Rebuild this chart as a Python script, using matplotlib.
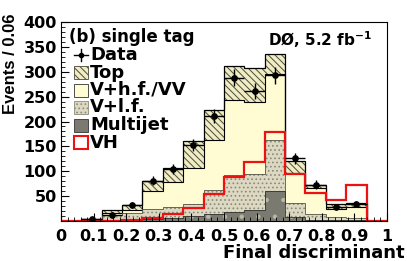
import numpy as np
import matplotlib
matplotlib.use("Agg")
import matplotlib.pyplot as plt
from matplotlib.patches import Rectangle

# ---- data (16 bins of width 0.0625 on [0,1]) ----
edges = np.linspace(0.0, 1.0, 17)
multijet = [0, 1, 2, 3, 4, 6, 10, 14, 19, 22, 60, 9, 3, 2, 2, 0]
vlf      = [0, 1, 10, 13, 20, 22, 25, 49, 74, 72, 103, 28, 11, 6, 4, 0]
vhf      = [0, 1.5, 4, 6, 37, 50, 72, 99, 151, 145, 132, 60, 52, 16, 23, 0]
top      = [0, 1.5, 6, 10.5, 19, 29, 54, 62, 68, 68, 41, 23, 7, 10, 7, 0]
data     = [0, 4, 13, 32, 81, 104, 153, 211, 288, 262, 293, 126, 73, 29, 34.5, 0]
vh       = [0, 0.5, 1, 2, 7, 14, 27, 54, 89, 118, 179, 94, 57, 42, 73, 0]

xticks = [0, 0.1, 0.2, 0.3, 0.4, 0.5, 0.6, 0.7, 0.8, 0.9, 1]
xticklabels = ["0", "0.1", "0.2", "0.3", "0.4", "0.5", "0.6", "0.7", "0.8", "0.9", "1"]
yticks = [50, 100, 150, 200, 250, 300, 350, 400]
legend_labels = ['Data', 'Top', 'V+h.f./VV', 'V+l.f.', 'Multijet', 'VH']

plt.rcParams['font.family'] = ['DejaVu Sans']
plt.rcParams['font.weight'] = 'bold'
plt.rcParams['hatch.linewidth'] = 0.7

W, H = 407, 261
fig = plt.figure(figsize=(W / 100, H / 100), dpi=100)
ax = fig.add_axes([61 / W, 1 - 221 / H, (387 - 61) / W, (221 - 22) / H])

TOP_FC, TOP_HC = '#f0ecc4', '#4a4a3a'
HF_FC = '#fffbd2'
LF_FC, LF_HC = '#dcd8c2', '#8a8a78'
MJ_FC, MJ_HC = '#7a7a70', '#b8b8a8'
VH_C = '#ee1111'

mj = np.array(multijet, float)
lf = np.array(vlf, float)
hf = np.array(vhf, float)
tp = np.array(top, float)
c1 = mj
c2 = c1 + lf
c3 = c2 + hf
c4 = c3 + tp

ax.stairs(c4, edges, baseline=c3, fill=True, facecolor=TOP_FC, edgecolor=TOP_HC, hatch='\\\\\\\\\\', lw=0)
ax.stairs(c3, edges, baseline=c2, fill=True, facecolor=HF_FC, lw=0)
ax.stairs(c2, edges, baseline=c1, fill=True, facecolor=LF_FC, edgecolor=LF_HC, hatch='....', lw=0)
ax.stairs(c1, edges, baseline=0, fill=True, facecolor=MJ_FC, edgecolor=MJ_HC, hatch='.', lw=0)
for c, col, w in [(c4, 'black', 0.9), (c3, 'black', 0.8), (c2, '#555548', 0.6), (c1, '#333330', 0.6)]:
    ax.stairs(c, edges, baseline=None, color=col, lw=w)

ax.stairs(np.array(vh, float), edges, baseline=None, color=VH_C, lw=1.6)

centers = 0.5 * (edges[:-1] + edges[1:])
d = np.array(data, float)
m = d > 0
ax.errorbar(centers[m], d[m], yerr=np.sqrt(d[m]), xerr=0.03125, fmt='o', color='black',
            ms=3.8, elinewidth=1.0, capsize=0, zorder=5)

ax.set_xlim(0, 1)
ax.set_ylim(0, 400)
ax.set_xticks(xticks)
ax.set_xticklabels(xticklabels)
ax.set_yticks(yticks)
ax.set_yticklabels([str(v) for v in yticks])
ax.set_xticks(np.arange(0, 1.0001, 0.02), minor=True)
ax.set_yticks(np.arange(0, 401, 10), minor=True)
ax.tick_params(axis='both', which='major', direction='in', labelsize=11.5, length=6, width=0.8)
ax.tick_params(axis='both', which='minor', direction='in', length=3, width=0.6)
ax.tick_params(axis='x', pad=6)
ax.tick_params(axis='y', pad=3)
for s in ax.spines.values():
    s.set_linewidth(0.8)

# axis titles
fig.text(405 / W, 3 / H, 'Final discriminant', fontsize=13, fontweight='bold',
         ha='right', va='baseline')
fig.text(11 / W, 1 - 13 / H, 'Events / 0.06', fontsize=12, fontweight='bold',
         family=['Liberation Sans', 'DejaVu Sans'], rotation=90, ha='center', va='top')

def ay(py):
    return (221 - py) / 199

def ax_x(px):
    return (px - 61) / 326

ax.text(ax_x(69), ay(37), '(b) single tag', transform=ax.transAxes, fontsize=12,
        fontweight='bold', ha='left', va='center')
ax.text(ax_x(372), ay(40), 'DØ, 5.2 fb$^{\\mathbf{-1}}$', transform=ax.transAxes, fontsize=11,
        fontweight='bold', ha='right', va='center')

# manual legend
rows = [55, 72.5, 90, 107.5, 125, 142.5]
bx0, bx1 = 74, 88
bh = 13
styles = [
    None,
    dict(facecolor=TOP_FC, edgecolor=TOP_HC, hatch='\\\\\\\\\\'),
    dict(facecolor=HF_FC, edgecolor='#333333'),
    dict(facecolor=LF_FC, edgecolor=LF_HC, hatch='....'),
    dict(facecolor=MJ_FC, edgecolor='#333333'),
    dict(facecolor='white', edgecolor=VH_C),
]
for lab, py, st in zip(legend_labels, rows, styles):
    if st is None:
        xc, yc = ax_x((bx0 + bx1) / 2), ay(py)
        ax.plot([ax_x(bx0), ax_x(bx1)], [yc, yc], color='black', lw=1.0, transform=ax.transAxes)
        ax.plot([xc, xc], [ay(py - 6), ay(py + 6)], color='black', lw=1.0, transform=ax.transAxes)
        ax.plot([xc], [yc], 'o', color='black', ms=3, transform=ax.transAxes)
    else:
        lw = 1.5 if lab == 'VH' else 0.6
        r = Rectangle((ax_x(bx0), ay(py + bh / 2)), ax_x(bx1) - ax_x(bx0), bh / 199,
                      transform=ax.transAxes, lw=lw, **st)
        ax.add_patch(r)
        if lab == 'VH':
            r.set_facecolor('white')
    ax.text(ax_x(90), ay(py), lab, transform=ax.transAxes, fontsize=13, fontweight='bold',
            ha='left', va='center')

fig.savefig('out.png', dpi=100)
